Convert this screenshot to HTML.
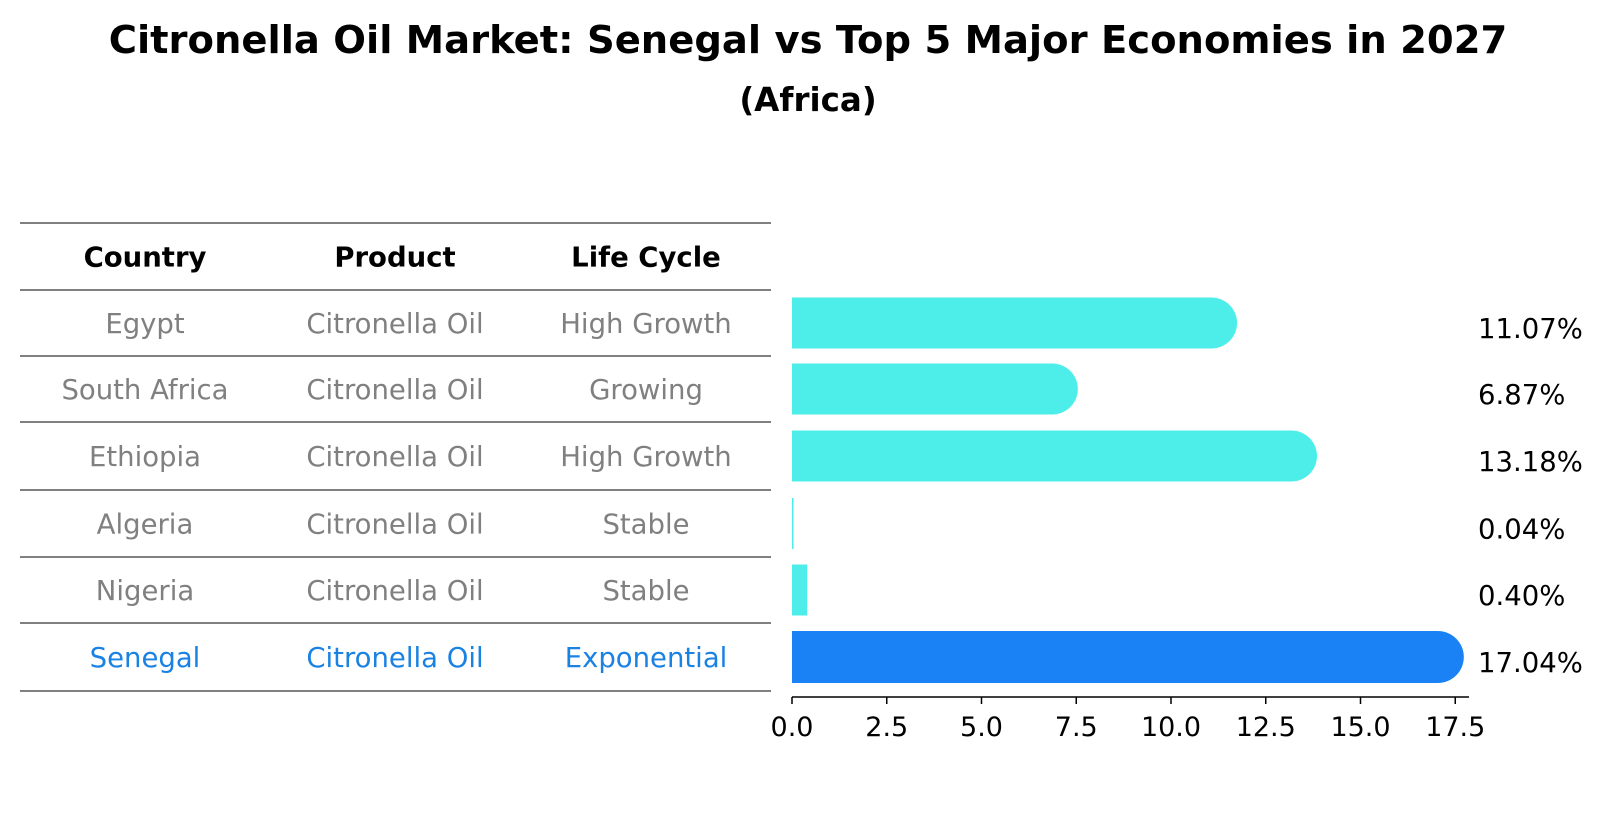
<!DOCTYPE html>
<html><head><meta charset="utf-8"><style>
body{margin:0;background:#fff;font-family:"DejaVu Sans","Liberation Sans",sans-serif;}
svg text{font-family:"DejaVu Sans","Liberation Sans",sans-serif;}
</style></head><body>
<svg id="chart" width="1604" height="823" xmlns="http://www.w3.org/2000/svg">
<text x="808" y="53" text-anchor="middle" font-size="38.5" font-weight="bold">Citronella Oil Market: Senegal vs Top 5 Major Economies in 2027</text>
<text x="808" y="111" text-anchor="middle" font-size="32.5" font-weight="bold">(Africa)</text>
<g id="table"></g>
<g id="bars"></g>
</svg>
<script>
const countries=["Egypt","South Africa","Ethiopia","Algeria","Nigeria","Senegal"];
const products=["Citronella Oil","Citronella Oil","Citronella Oil","Citronella Oil","Citronella Oil","Citronella Oil"];
const lifeCycles=["High Growth","Growing","High Growth","Stable","Stable","Exponential"];
const shares=[11.07,6.87,13.18,0.04,0.40,17.04];
const ticks=[0,2.5,5,7.5,10,12.5,15,17.5];

const NS="http://www.w3.org/2000/svg";
function mk(tag,attrs,parent,txt){const e=document.createElementNS(NS,tag);for(const k in attrs)e.setAttribute(k,attrs[k]);if(txt!==undefined)e.textContent=txt;parent.appendChild(e);return e;}
const tbl=document.getElementById('table');
const bars=document.getElementById('bars');
const lineYs=[223,290,356,422,490,557,623,691];
const colX=[145,395,646];
const rowY=i=>(lineYs[i+1]+lineYs[i+2])/2;
lineYs.forEach((y,i)=>{const l=mk('line',{x1:20,x2:771,y1:y,y2:y,stroke:'#000','stroke-width':1},tbl);

});
["Country","Product","Life Cycle"].forEach((h,j)=>{const t=mk('text',{x:colX[j],y:(lineYs[0]+lineYs[1])/2+10,'text-anchor':'middle','font-size':27.5,'font-weight':'bold'},tbl,h);

});
const x0=792,pxPer=37.9,axisY=697;
const xs=v=>x0+v*pxPer;
countries.forEach((c,i)=>{
 const last=i===countries.length-1;
 const col=last?'#1a82e2':'#808080';
 [c,products[i],lifeCycles[i]].forEach((v,j)=>{const t=mk('text',{x:colX[j],y:rowY(i)+10,'text-anchor':'middle','font-size':27.5,fill:col},tbl,v);
 
 });
 const cy=rowY(i), h=last?52:51, w=xs(shares[i])-x0;
 const fill=last?'#1a82f5':'#4deeea';
 let b;
 if(w>h/2){const r=h/2;
  b=mk('path',{d:`M${x0},${cy-r} H${x0+w} A${r},${r} 0 0 1 ${x0+w},${cy+r} H${x0} Z`,fill:fill},bars);
 } else {b=mk('rect',{x:x0,y:cy-h/2,width:Math.max(w,1.5),height:h,fill:fill},bars);}
 
 
 const t=mk('text',{x:1478,y:cy+15,'font-size':27.5},bars,shares[i].toFixed(2)+'%');
 
 
});
const ax=mk('line',{x1:x0,x2:1469,y1:axisY,y2:axisY,stroke:'#000','stroke-width':1.5},bars);


ticks.forEach(v=>{const tk=mk('line',{x1:xs(v),x2:xs(v),y1:axisY,y2:axisY+7,stroke:'#000','stroke-width':1.5},bars);


const t=mk('text',{x:xs(v),y:axisY+39,'text-anchor':'middle','font-size':27},bars,v.toFixed(1));

});
</script>
</body></html>
